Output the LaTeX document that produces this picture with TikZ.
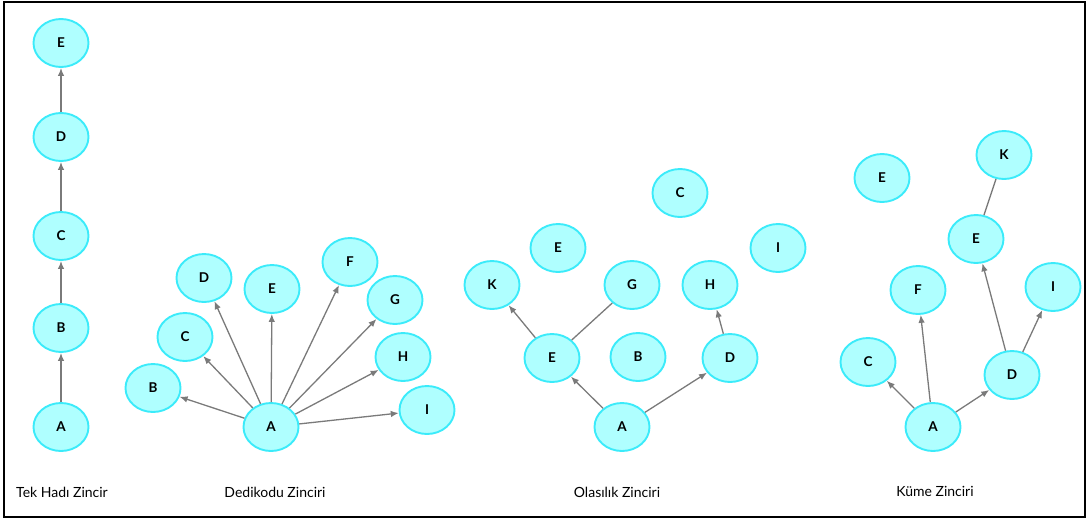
\documentclass[tikz,border=0pt]{standalone}
\usepackage{fontspec}
\setmainfont{Lato}
\usetikzlibrary{arrows.meta,shapes.geometric}
\definecolor{nodefill}{HTML}{AFFFFF}
\definecolor{nodeline}{HTML}{3BEBFA}
\definecolor{edgegray}{HTML}{7A7A7A}
\tikzset{
  person/.style={ellipse, draw=nodeline, fill=nodefill, line width=1.9pt,
    minimum width=55pt, minimum height=48pt, inner sep=0pt,
    font=\fontsize{13.5}{13.5}\selectfont\bfseries},
  tell/.style={draw=edgegray, line width=1.3pt, -{Latex[length=8pt,width=6.5pt]}},
  link/.style={draw=edgegray, line width=1.3pt},
  caption/.style={font=\fontsize{14}{14}\selectfont, inner sep=0pt}
}
\begin{document}
\begin{tikzpicture}[x=1pt,y=-1pt]
\useasboundingbox (0,0) rectangle (1089,520);
\draw[line width=2pt] (4,2) rectangle (1085,517);

% Tek Hadi Zincir: single strand
\node[person] (s1A) at (61,427) {A};
\node[person] (s1B) at (61,328) {B};
\node[person] (s1C) at (61,236) {C};
\node[person] (s1D) at (61,137) {D};
\node[person] (s1E) at (61,43) {E};
\draw[tell] (s1A) -- (s1B);
\draw[tell] (s1B) -- (s1C);
\draw[tell] (s1C) -- (s1D);
\draw[tell] (s1D) -- (s1E);
\node[caption] (cap1) at (62,492) {Tek Hadı Zincir};

% Dedikodu Zinciri: gossip
\node[person] (gA) at (271,427) {A};
\node[person] (gB) at (153,388) {B};
\node[person] (gC) at (185,337) {C};
\node[person] (gD) at (204,278) {D};
\node[person] (gE) at (272,289) {E};
\node[person] (gF) at (350,262) {F};
\node[person] (gG) at (395,300) {G};
\node[person] (gH) at (403,357) {H};
\node[person] (gI) at (427,410) {I};
\foreach \t in {B,C,D,E,F,G,H,I} \draw[tell] (gA) -- (g\t);
\node[caption] (cap2) at (275,492) {Dedikodu Zinciri};

% Olasilik Zinciri: probability
\node[person] (pC) at (680,193) {C};
\node[person] (pE2) at (558,248) {E};
\node[person] (pI) at (778,248) {I};
\node[person] (pK) at (492,285) {K};
\node[person] (pG) at (632,285) {G};
\node[person] (pH) at (710,285) {H};
\node[person] (pE) at (552,358) {E};
\node[person] (pB) at (638,357) {B};
\node[person] (pD) at (730,358) {D};
\node[person] (pA) at (622,427) {A};
\draw[tell] (pA) -- (pE);
\draw[tell] (pA) -- (pD);
\draw[tell] (pE) -- (pK);
\draw[link] (pE) -- (pG);
\draw[tell] (pD) -- (pH);
\node[caption] (cap3) at (617,492) {Olasılık Zinciri};

% Kume Zinciri: cluster
\node[person] (cE2) at (882,178) {E};
\node[person] (cK) at (1004,155) {K};
\node[person] (cE) at (976,239) {E};
\node[person] (cF) at (918,290) {F};
\node[person] (cI) at (1053,287) {I};
\node[person] (cC) at (868,362) {C};
\node[person] (cD) at (1012,375) {D};
\node[person] (cA) at (933,427) {A};
\draw[tell] (cA) -- (cC);
\draw[tell] (cA) -- (cF);
\draw[tell] (cA) -- (cD);
\draw[tell] (cD) -- (cE);
\draw[tell] (cD) -- (cI);
\draw[link] (cE) -- (cK);
\node[caption] (cap4) at (935,491) {Küme Zinciri};
\end{tikzpicture}
\end{document}
